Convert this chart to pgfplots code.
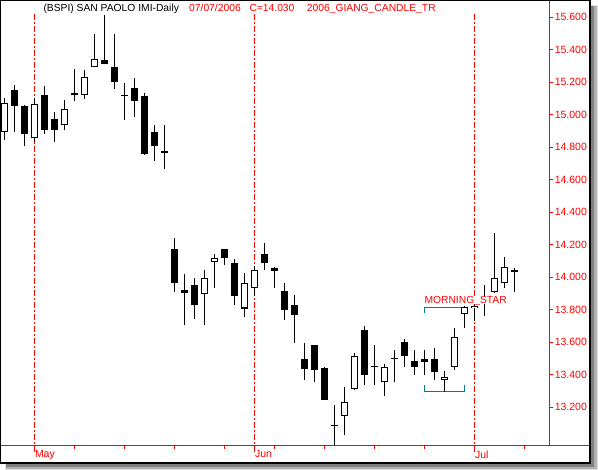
\documentclass[border=0pt]{standalone}
\usepackage{pgfplots}
\pgfplotsset{compat=1.18}
\usepackage{pgfplotstable}
\usepackage{fontspec}
\setmainfont{Liberation Sans}
\definecolor{msteal}{RGB}{0,128,128}
\newcommand{\tfont}{\fontsize{10.3bp}{12bp}\selectfont}
\newcommand{\kfont}{\fontsize{10.5bp}{12bp}\selectfont}

\pgfplotstableread{
i O H L C
0 14.895 15.104 14.843 15.073
1 15.155 15.185 14.892 15.052
2 15.056 15.060 14.806 14.884
3 14.858 15.104 14.831 15.067
4 15.124 15.179 14.884 14.909
5 14.977 15.018 14.831 14.905
6 14.935 15.093 14.905 15.038
7 15.134 15.284 15.083 15.120
8 15.120 15.278 15.099 15.233
9 15.292 15.499 15.292 15.343
10 15.337 15.615 15.310 15.310
11 15.296 15.499 15.161 15.200
12 15.116 15.196 14.966 15.116
13 15.167 15.228 14.985 15.083
14 15.118 15.134 14.751 14.760
15 14.897 14.940 14.714 14.806
16 14.780 14.940 14.668 14.763
17 14.172 14.239 13.910 13.967
18 13.920 14.018 13.708 13.905
19 13.951 13.994 13.742 13.832
20 13.900 14.043 13.707 13.998
21 14.096 14.146 13.932 14.121
22 14.172 14.172 14.075 14.118
23 14.090 14.110 13.830 13.885
24 13.808 14.029 13.756 13.967
25 13.937 14.069 13.885 14.043
26 14.141 14.208 14.045 14.090
27 14.059 14.065 13.937 14.039
28 13.914 13.963 13.738 13.799
29 13.832 13.888 13.593 13.768
30 13.500 13.594 13.369 13.437
31 13.582 13.585 13.357 13.430
32 13.439 13.451 13.243 13.246
33 13.090 13.214 12.968 13.085
34 13.148 13.322 13.029 13.230
35 13.310 13.537 13.305 13.513
36 13.674 13.701 13.337 13.400
37 13.451 13.582 13.337 13.451
38 13.353 13.465 13.271 13.451
39 13.500 13.551 13.353 13.500
40 13.599 13.619 13.451 13.513
41 13.482 13.551 13.400 13.449
42 13.500 13.551 13.400 13.480
43 13.500 13.562 13.369 13.418
44 13.369 13.422 13.292 13.384
45 13.451 13.691 13.430 13.630
46 13.777 13.825 13.691 13.819
47 13.809 13.880 13.731 13.824
48 13.860 13.951 13.759 13.860
49 13.911 14.270 13.905 13.998
50 13.967 14.127 13.932 14.066
51 14.043 14.059 13.910 14.030
}\candles

\begin{document}
\begin{tikzpicture}
\useasboundingbox (0,0) rectangle (598bp,470bp);
% shadow
\fill[black!12] (5bp,0bp) rectangle (598bp,465bp);
\fill[black!30] (6bp,1bp) rectangle (596.5bp,464bp);
\fill[black!50] (6bp,3bp) rectangle (594bp,464bp);
% page
\fill[white] (0bp,6bp) rectangle (591bp,470bp);
\begin{axis}[
  at={(2bp,24bp)}, anchor=south west,
  scale only axis, width=547.3bp, height=445bp,
  xmin=-0.23, xmax=54.5, ymin=12.962, ymax=15.700,
  axis line style={draw=none},
  clip=false,
  tick align=outside,
  xtick pos=left, ytick pos=right,
  xticklabel pos=left, yticklabel pos=right,
  xtick={3,25,47}, xticklabels={May,Jun,Jul},
  minor xtick={7,12,17,22,27,32,37,42,52},
  ytick={13.2,13.4,13.6,13.8,14.0,14.2,14.4,14.6,14.8,15.0,15.2,15.4,15.6},
  xtick style={red, line width=1bp, /pgfplots/major tick length=6bp, /pgfplots/minor tick length=3bp},
  ytick style={red, line width=1bp, /pgfplots/major tick length=4bp},
  /pgf/number format/.cd, fixed, fixed zerofill, precision=3, 1000 sep={}, assume math mode=true,
  /pgfplots/.cd,
  xticklabel style={red, font=\kfont, anchor=north west, inner sep=0pt, xshift=0.5bp, yshift=0bp},
  yticklabel style={red, font=\kfont, anchor=west, inner sep=0pt, xshift=1bp},
  candle/.style={draw=none, mark=none, forget plot,
    error bars/.cd, y dir=plus, y explicit, error mark=none, /pgfplots/.cd},
]
% month separators
\foreach \m in {3,25,47}{
  \edef\tmp{\noexpand\draw[red, line width=1bp, dash pattern=on 6bp off 2bp on 2bp off 2bp] (axis cs:\m,15.62) -- (axis cs:\m,12.962);}
  \tmp
}
% morning star annotation
\draw[msteal, line width=1bp] (axis cs:42,13.778) -- (axis cs:42,13.813) -- (axis cs:46,13.813) -- (axis cs:46,13.778);
\draw[msteal, line width=1bp] (axis cs:42,13.337) -- (axis cs:42,13.298) -- (axis cs:46,13.298) -- (axis cs:46,13.337);
% wicks
\addplot[candle, /pgfplots/error bars/error bar style={draw=black, solid, line width=1.1bp}]
  table[x=i, y=L, y error expr={\thisrow{H}-\thisrow{L}}] {\candles};
% bodies
\addplot[candle, /pgfplots/error bars/error bar style={draw=black, solid, line width=7bp}]
  table[x=i, y expr={min(\thisrow{O},\thisrow{C})}, y error expr={max(abs(\thisrow{C}-\thisrow{O}),0.0062)}] {\candles};
% hollow interiors of rising candles
\addplot[candle, /pgfplots/error bars/error bar style={draw=white, solid, line width=5bp}]
  table[x=i, y expr={\thisrow{O}+0.0062}, y error expr={(\thisrow{C}>\thisrow{O})*max(\thisrow{C}-\thisrow{O}-0.0124,0)}] {\candles};
\node[anchor=base west, inner xsep=0.5bp, inner ysep=0pt, text depth=0pt, fill=white, text=red, font=\tfont] at (axis cs:41.95,13.836) {MORNING\_STAR};
\end{axis}
% axis lines
\draw[red, line width=1bp] (1bp,24bp) -- (590bp,24bp);
\draw[red, line width=1bp] (549.3bp,469bp) -- (549.3bp,24bp);
% frame
\fill[black] (0bp,469bp) rectangle (591bp,470bp);
\fill[black] (0bp,6bp) rectangle (1bp,470bp);
\fill[black] (589bp,6bp) rectangle (591bp,470bp);
\fill[black] (0bp,6bp) rectangle (591bp,8bp);
% title
\node[anchor=base west, inner sep=0pt, font=\tfont] at (43.3bp,458bp) {(BSPI) SAN PAOLO IMI-Daily};
\node[anchor=base west, inner sep=0pt, font=\tfont, red] at (189bp,458bp) {07/07/2006};
\node[anchor=base west, inner sep=0pt, font=\tfont, red] at (249.3bp,458bp) {C=14.030};
\node[anchor=base west, inner sep=0pt, font=\tfont, red] at (306.7bp,458bp) {2006\_GIANG\_CANDLE\_TR};
\end{tikzpicture}
\end{document}
